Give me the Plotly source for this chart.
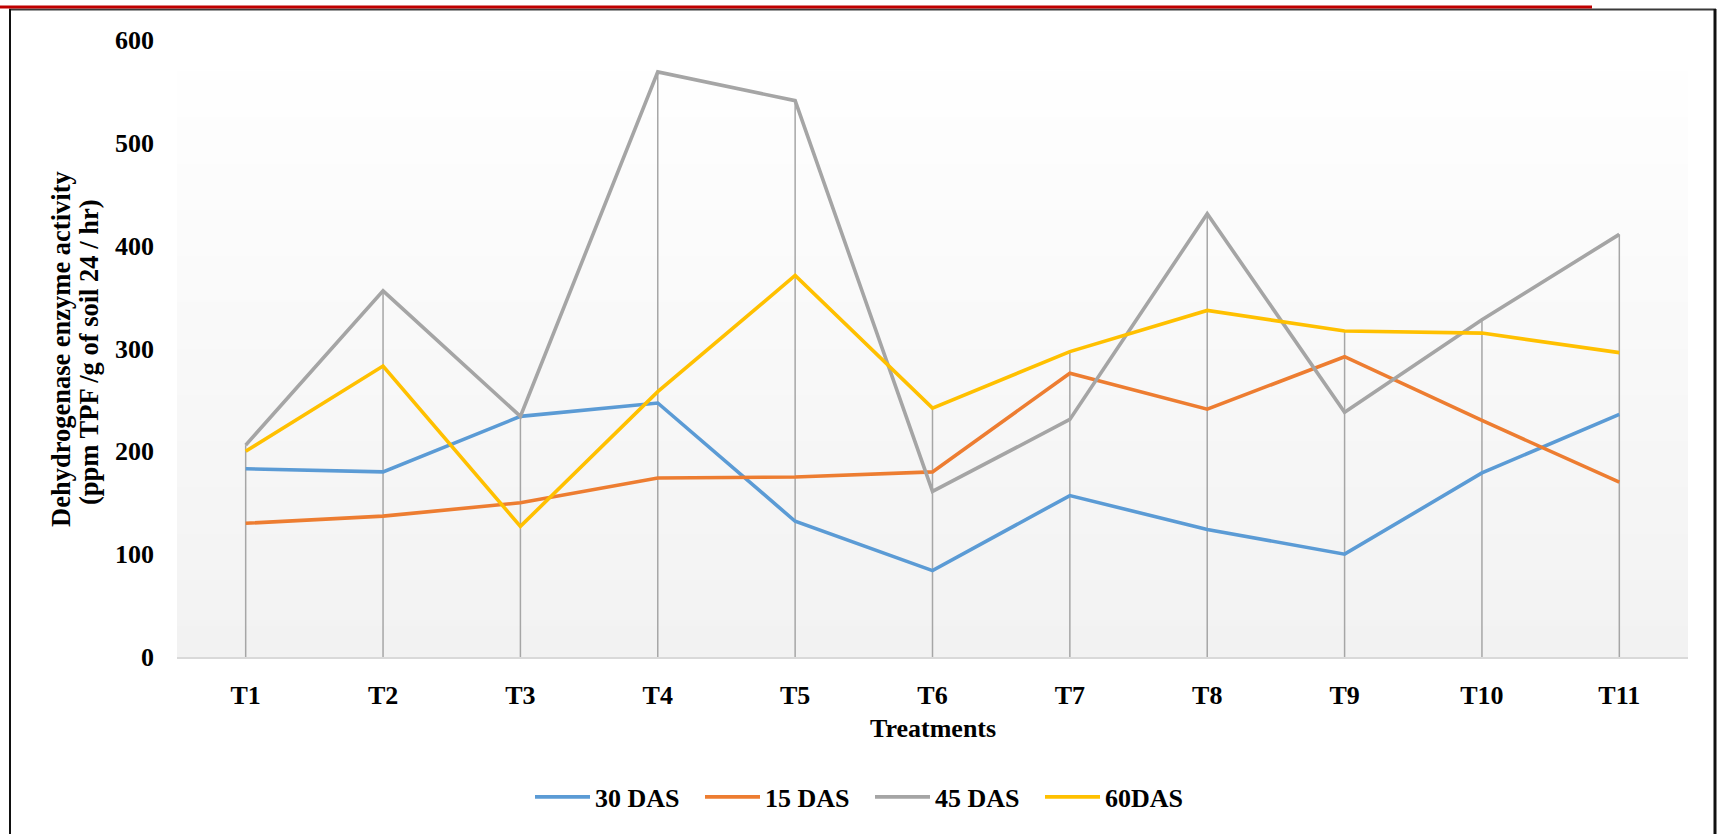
import plotly.graph_objects as go

# Dehydrogenase enzyme activity by treatment and sampling stage
treatments = ["T1", "T2", "T3", "T4", "T5", "T6", "T7", "T8", "T9", "T10", "T11"]
das_30 = [183, 180, 234, 247, 132, 84, 157, 124, 100, 179, 236]
das_15 = [130, 137, 150, 174, 175, 180, 276, 241, 292, 230, 170]
das_45 = [206, 356, 234, 569, 541, 161, 231, 431, 238, 328, 411]
das_60 = [200, 283, 127, 258, 371, 242, 297, 337, 317, 315, 296]
series_names = ["30 DAS", "15 DAS", "45 DAS", "60DAS"]
series_colors = ["#5b9bd5", "#ed7d31", "#a5a5a5", "#ffc000"]
y_ticks = [0, 100, 200, 300, 400, 500, 600]

W, H = 1722, 834
PL, PR, PT, PB = 177, 1688, 40, 657  # plot area in pixels
FONT = "Liberation Serif"


def fx(px):
    return (px - PL) / (PR - PL)


def fy(py):
    return (PB - py) / (PB - PT)


fig = go.Figure()

# drop lines from the highest series value down to the axis
all_series = [das_30, das_15, das_45, das_60]
drop_x, drop_y = [], []
for i, t in enumerate(treatments):
    top = max(s[i] for s in all_series)
    drop_x += [t, t, None]
    drop_y += [0, top, None]
fig.add_trace(go.Scatter(x=drop_x, y=drop_y, mode="lines",
                         line=dict(color="#a6a6a6", width=1.5),
                         showlegend=False, hoverinfo="skip"))

for name, vals, col in zip(series_names, all_series, series_colors):
    fig.add_trace(go.Scatter(x=treatments, y=vals, mode="lines", name=name,
                             line=dict(color=col, width=3.6)))

shapes = []
# plot-area gradient fill: white at top fading to light grey at the bottom
n_bands = 80
for k in range(n_bands):
    t = k / (n_bands - 1)
    v = int(round(0xf2 + (0xff - 0xf2) * t))
    shapes.append(dict(type="rect", xref="x domain", yref="y domain",
                       x0=0, x1=1, y0=k / n_bands, y1=(k + 1) / n_bands + 0.002,
                       fillcolor=f"rgb({v},{v},{v})", line=dict(width=0),
                       layer="below"))

# outer frame and red header rule
shapes.append(dict(type="line", xref="paper", yref="paper",
                   x0=fx(9), x1=fx(1716), y0=fy(9.5), y1=fy(9.5),
                   line=dict(color="#3a3a3a", width=2)))
shapes.append(dict(type="line", xref="paper", yref="paper",
                   x0=fx(10), x1=fx(10), y0=fy(9), y1=fy(840),
                   line=dict(color="#111111", width=2)))
shapes.append(dict(type="line", xref="paper", yref="paper",
                   x0=fx(1715), x1=fx(1715), y0=fy(9), y1=fy(840),
                   line=dict(color="#111111", width=3)))
shapes.append(dict(type="line", xref="paper", yref="paper",
                   x0=fx(0), x1=fx(1592), y0=fy(7), y1=fy(7),
                   line=dict(color="#c00000", width=3)))

annotations = [
    dict(text="Treatments", xref="paper", yref="paper", x=0.5, y=fy(728),
         xanchor="center", yanchor="middle", showarrow=False,
         font=dict(family=FONT, size=26, color="black", weight="bold")),
    dict(text="Dehydrogenase enzyme activity", xref="paper", yref="paper",
         x=fx(61), y=fy(349), xanchor="center", yanchor="middle",
         textangle=-90, showarrow=False,
         font=dict(family=FONT, size=26.5, color="black", weight="bold")),
    dict(text="(ppm TPF /g of soil 24 / hr)", xref="paper", yref="paper",
         x=fx(89), y=fy(352), xanchor="center", yanchor="middle",
         textangle=-90, showarrow=False,
         font=dict(family=FONT, size=26.5, color="black", weight="bold")),
]

fig.update_layout(
    width=W, height=H,
    margin=dict(l=PL, r=W - PR, t=PT, b=H - PB, pad=0),
    paper_bgcolor="white", plot_bgcolor="white",
    shapes=shapes, annotations=annotations,
    showlegend=True,
    legend=dict(orientation="h", x=fx(530), xanchor="left",
                y=fy(797), yanchor="middle", itemwidth=55, entrywidth=100,
                font=dict(family=FONT, size=26, color="black", weight="bold"),
                bgcolor="rgba(0,0,0,0)"),
    xaxis=dict(type="category", range=[-0.5, 10.5], showgrid=False,
               showline=True, linecolor="#d9d9d9", linewidth=1.5,
               ticks="", ticklabelstandoff=14, zeroline=False,
               tickfont=dict(family=FONT, size=26, color="black", weight="bold")),
    yaxis=dict(range=[0, 600], tickvals=y_ticks, showgrid=False,
               showline=False, zeroline=False, ticks="",
               ticklabelstandoff=22,
               tickfont=dict(family=FONT, size=26, color="black", weight="bold")),
)

fig.write_html("out.html")
